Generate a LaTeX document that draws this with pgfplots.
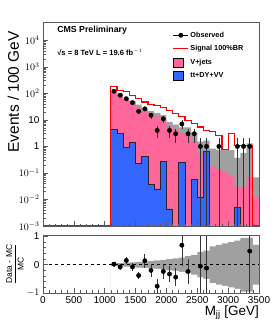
\documentclass[border=0pt]{standalone}
\usepackage{fontspec}
\setmainfont{Liberation Sans}
\usepackage{pgfplots}
\pgfplotsset{compat=1.18}
\usepackage{pgfplotstable}
\definecolor{vpink}{RGB}{255,102,153}
\definecolor{vblue}{RGB}{51,102,255}
\definecolor{band}{RGB}{160,160,160}
\definecolor{frame}{RGB}{90,90,90}
\definecolor{sigred}{RGB}{255,0,0}

\pgfplotstableread{
x    mc     lo     hi     blue
1100 1e-6   1e-6   1e-6   1e-6
1100 118    112    124    4.3
1200 92     86.5   97.5   3.2
1300 58     53.9   62.1   0.93
1400 48     44.2   51.8   1.44
1500 34     30.6   37.4   0.22
1600 24     21.4   26.6   0.42
1700 19     16.5   21.5   0.038
1800 16     13.6   18.4   0.025
1900 13     10.8   15.2   0.27
2000 7      5.6    8.4    0.0044
2100 5.5    4.3    6.7    1e-6
2200 4.2    3.15   5.25   0.25
2300 4.0    2.8    5.2    1e-6
2400 2.5    1.63   3.38   0.056
2500 1.05   0.58   1.52   0.012
2600 1.1    0.55   1.65   0.66
2700 0.5    0.175  0.825  1e-6
2800 0.45   0.135  0.765  1e-6
2900 0.45   0.11   0.79   1e-6
3000 0.4    0.08   0.72   1e-6
3100 0.2    0.03   0.37   0.005
3200 0.3    0.03   0.57   1e-6
3300 0.68   0.068  1.29   1e-6
3400 0.04   0.012  0.068  1e-6
3500 0.04   0.012  0.068  1e-6
3500 1e-6   1e-6   1e-6   1e-6
}\mctab

\pgfplotstableread{
x    sig
0    1.05e-3
1100 186
1200 132
1300 120
1400 85
1500 63
1600 47
1700 38
1800 35
1900 30
2000 23
2100 17
2200 13
2300 9.6
2400 7.2
2500 5.4
2600 4.0
2700 3.7
2800 2.6
2900 0.76
3000 3.0
3100 1.07
3200 1.07
3300 1.07
3400 1.05e-3
3500 1.05e-3
}\sigtab

\pgfplotstableread{
x    y    ep   em
1150 120  11   11
1250 85   9.2  9.2
1350 63   7.9  7.9
1450 45   6.7  6.7
1550 21   4.6  4.6
1650 26   5.1  5.1
1750 15   3.9  3.9
1850 4    2    2
1950 11   3.3  3.3
2050 4    2    2
2150 3    1.7  1.7
2250 7    2.6  2.6
2350 3    1.7  1.7
2450 3    1.7  1.7
2550 1    1    0.9999
2650 1    1    0.9999
2850 1    1    0.9999
3150 1    1    0.9999
3250 1    1    0.9999
3350 1    1    0.9999
}\datatab

\pgfplotstableread{
x    r     rn
1100 -2    -2
1100 0.05  -0.05
1200 0.06  -0.06
1300 0.07  -0.07
1400 0.08  -0.08
1500 0.10  -0.10
1600 0.11  -0.11
1700 0.13  -0.13
1800 0.15  -0.15
1900 0.17  -0.17
2000 0.20  -0.20
2100 0.22  -0.22
2200 0.25  -0.25
2300 0.30  -0.30
2400 0.35  -0.35
2500 0.45  -0.45
2600 0.50  -0.50
2700 0.65  -0.65
2800 0.70  -0.70
2900 0.75  -0.75
3000 0.80  -0.80
3100 0.85  -0.85
3200 0.95  -0.95
3300 0.95  -0.95
3400 0.70  -0.70
3500 0.70  -0.70
3500 -2    -2
}\bandtab

\pgfplotstableread{
x    r      e
1150 0.02   0.09
1250 -0.08  0.10
1350 0.15   0.14
1450 -0.08  0.14
1550 -0.38  0.13
1650 0.14   0.25
1750 -0.20  0.22
1850 -0.76  0.25
1950 -0.24  0.26
2050 -0.33  0.29
2150 -0.44  0.31
2250 0.69   0.75
2350 -0.24  0.45
2550 -0.05  1.2
2650 -0.12  1.2
3350 0.48   1.5
}\ratiotab

\pgfplotsset{
  cmsaxis/.style={
    scale only axis, width=216bp,
    xmin=0, xmax=3500,
    xtick={0,500,...,3500}, minor x tick num=4,
    tick pos=left, tick align=inside,
    major tick length=5bp, minor tick length=2.5bp,
    axis line style={frame, line width=0.8bp},
    every tick/.style={frame, line width=0.6bp},
    tick label style={font=\fontsize{10}{11}\selectfont},
    /pgf/number format/assume math mode=true,
    /pgf/number format/set thousands separator={},
    axis on top,
  }
}

\begin{document}
\begin{tikzpicture}[x=1bp,y=1bp]
\path (0,0) rectangle (273,327);

\begin{axis}[cmsaxis,
  at={(43bp,101bp)}, anchor=south west, height=204bp,
  ymode=log, ymin=1e-3, ymax=4.9e4,
  ytick={1e-3,1e-2,1e-1,1,10,100,1000,10000},
  yticklabels={$10^{-3}$,$10^{-2}$,$10^{-1}$,1,10,$10^{2}$,$10^{3}$,$10^{4}$},
  xticklabels={},
  ylabel={Events / 100 GeV},
  ylabel style={font=\fontsize{15.5}{17}\selectfont, inner sep=0pt, at={(axis description cs:-0.112,0.955)}, anchor=base east},
  legend style={at={(axis description cs:0.6,0.96)}, anchor=north west, draw=none, fill=none,
     font=\bfseries\fontsize{7.3}{8.5}\selectfont, row sep=3.8bp, inner sep=0pt,
     nodes={inner sep=1.5bp}},
  legend cell align=left,
]
\addlegendimage{legend image code/.code={\draw[draw=black,line width=0.7bp] (0bp,0bp)--(15bp,0bp); \fill[black] (7.5bp,0bp) circle (2.2bp);}}
\addlegendentry{Observed}
\addlegendimage{legend image code/.code={\draw[draw=sigred,line width=1.1bp] (0bp,0bp)--(15bp,0bp);}}
\addlegendentry{Signal 100\%BR}
\addlegendimage{legend image code/.code={\draw[draw=black,fill=vpink,line width=0.7bp] (0bp,-4.5bp) rectangle (10bp,4.5bp);}}
\addlegendentry{V+jets}
\addlegendimage{legend image code/.code={\draw[draw=black,fill=vblue,line width=0.7bp] (0bp,-4.5bp) rectangle (10bp,4.5bp);}}
\addlegendentry{tt+DY+VV}

\addplot[forget plot, const plot mark left, fill=band, draw=none] table[x=x,y=hi] {\mctab};
\addplot[forget plot, const plot mark left, fill=vpink, draw=none] table[x=x,y=lo] {\mctab};
\addplot[forget plot, const plot mark left, fill=vblue, draw=black!85, line width=0.8bp] table[x=x,y=blue] {\mctab};
\addplot[forget plot, only marks, mark=*, mark size=2.2bp, black,
   error bars/.cd, y dir=both, y explicit, error bar style={line width=0.7bp, black!80}, error mark=none]
   table[x=x,y=y,y error plus=ep,y error minus=em] {\datatab};
\addplot[forget plot, const plot mark left, color=sigred, line width=1.2bp, mark=none, line join=miter] table[x=x,y=sig] {\sigtab};

\node[anchor=west, font=\bfseries\fontsize{8.8}{10}\selectfont] at (rel axis cs:0.05,0.958) {CMS Preliminary};
\node[anchor=west, font=\bfseries\fontsize{7.6}{9}\selectfont] at (rel axis cs:0.05,0.85) {√s = 8 TeV L = 19.6 fb$^{-1}$};
\end{axis}

\begin{axis}[cmsaxis,
  at={(43bp,34bp)}, anchor=south west, height=58bp,
  ymin=-1, ymax=1.05,
  ytick={-1,0,1}, yticklabels={$-1$,0,1}, minor y tick num=4,
  xlabel={M$_{\mathrm{jj}}$ [GeV]},
  xlabel style={font=\fontsize{13.5}{15}\selectfont, inner sep=0pt, at={(axis description cs:1,-0.39)}, anchor=base east},
  ylabel={$\displaystyle\frac{\mbox{Data - MC}}{\mbox{MC}}$},
  ylabel style={font=\fontsize{8.5}{10}\selectfont, at={(axis description cs:-0.13,0.5)}, anchor=center},
]
\addplot[const plot mark left, fill=band, draw=none, forget plot] table[x=x,y=r] {\bandtab};
\addplot[const plot mark left, fill=white, draw=none, forget plot] table[x=x,y=rn] {\bandtab};
\addplot[black, dashed, line width=0.6bp, forget plot] coordinates {(0,0) (3500,0)};
\addplot[forget plot, only marks, mark=*, mark size=2.2bp, black,
   error bars/.cd, y dir=both, y explicit, error bar style={line width=0.7bp, black!80}, error mark=none]
   table[x=x,y=r,y error=e] {\ratiotab};
\end{axis}
\end{tikzpicture}
\end{document}
